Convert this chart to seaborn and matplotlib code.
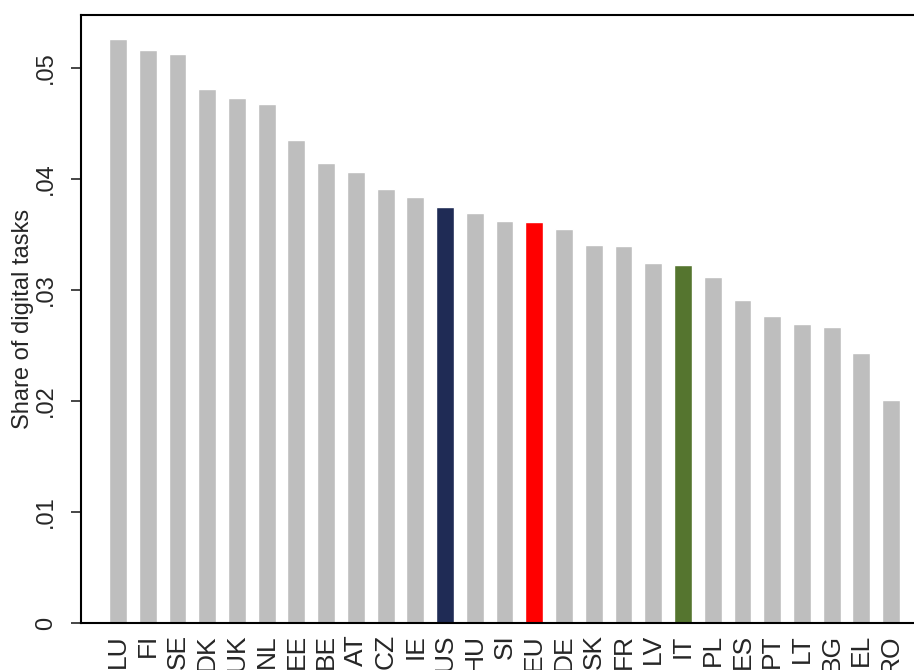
import matplotlib
matplotlib.use('Agg')
import matplotlib.pyplot as plt
import seaborn as sns
import pandas as pd

# 数据
countries = ['LU', 'FI', 'SE', 'DK', 'UK', 'NL', 'EE', 'BE', 'AT', 'CZ', 'IE', 'US', 'HU', 'SI',
             'EU', 'DE', 'SK', 'FR', 'LV', 'IT', 'PL', 'ES', 'PT', 'LT', 'BG', 'EL', 'RO']
share = [0.0526, 0.0516, 0.0513, 0.0481, 0.0473, 0.0468, 0.0435, 0.0414, 0.0406, 0.0391,
         0.0384, 0.0375, 0.0369, 0.0362, 0.0361, 0.0355, 0.0341, 0.0340, 0.0324, 0.0323,
         0.0312, 0.0291, 0.0277, 0.0269, 0.0267, 0.0243, 0.0201]
yticks = [0, 0.01, 0.02, 0.03, 0.04, 0.05]
ytick_labels = ['0', '.01', '.02', '.03', '.04', '.05']

highlight = {'US': '#1f2b55', 'EU': '#ff0000', 'IT': '#55752f'}
palette = {c: highlight.get(c, '#bebebe') for c in countries}

df = pd.DataFrame({'country': countries, 'share': share})

sns.set_style('white')
plt.rcParams['font.family'] = ['Liberation Sans', 'DejaVu Sans']

fig = plt.figure(figsize=(9.14, 6.70), dpi=100)
ax = fig.add_axes([0.0886, 0.070, 0.9114, 0.908])

sns.barplot(data=df, x='country', y='share', hue='country', palette=palette,
            width=0.6, legend=False, saturation=1, ax=ax)

ax.set_xlim(-1.245, 26.77)
ax.set_ylim(0, 0.0548)
ax.set_yticks(yticks)
ax.set_yticklabels(ytick_labels, rotation=90, va='center', fontsize=17)
ax.set_xticks(range(len(countries)))
ax.set_xticklabels(countries, rotation=90, fontsize=19)
ax.set_xlabel('')
ax.set_ylabel('Share of digital tasks', fontsize=17, labelpad=1)
ax.tick_params(axis='y', direction='out', length=7, width=1.2, left=True, pad=10)
ax.tick_params(axis='x', length=0, pad=8)

for s in ['top', 'left', 'bottom']:
    ax.spines[s].set_linewidth(1.5)
    ax.spines[s].set_color('black')
ax.spines['right'].set_visible(False)

fig.savefig('out.png', dpi=100)
